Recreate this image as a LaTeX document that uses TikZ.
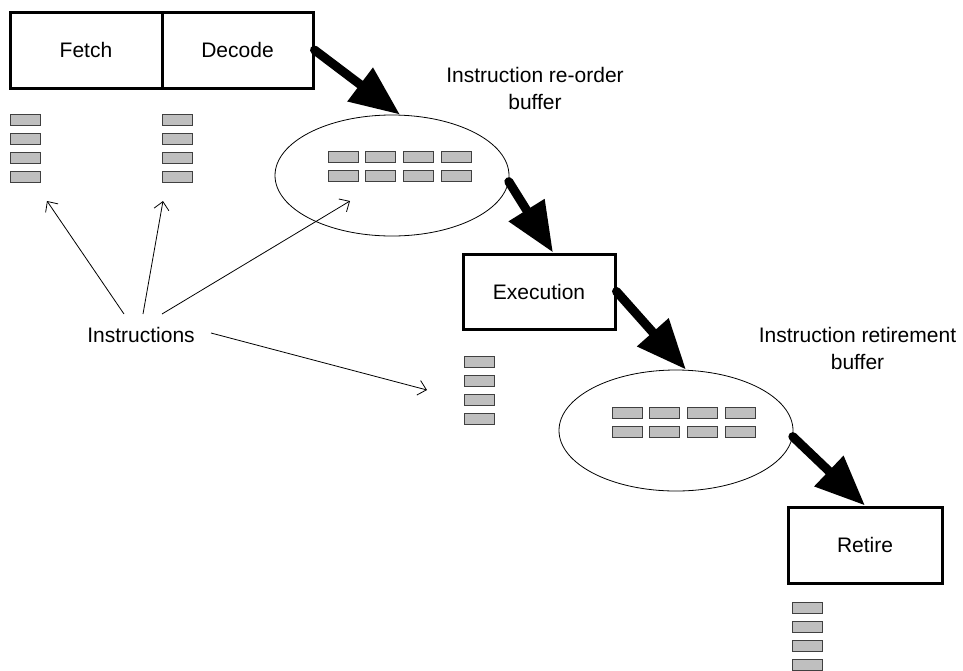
\documentclass[tikz,border=0pt]{standalone}
\usepackage{fontspec}
\setmainfont{Liberation Sans}
\usetikzlibrary{arrows.meta,shapes.geometric,calc}

\tikzset{
  stage/.style={draw, line width=3pt, inner sep=0pt, font=\fontsize{21}{27}\selectfont},
  buf/.style={draw, ellipse, line width=0.8pt, inner sep=0pt,
              minimum width=234pt, minimum height=121pt},
  slot/.style={draw=black!75, fill=gray!50, line width=0.9pt, inner sep=0pt,
               minimum width=30pt, minimum height=11pt},
  label/.style={align=center, inner sep=0pt, font=\fontsize{21}{27}\selectfont},
  flow/.style={line width=9pt, line cap=round,
               -{Triangle[length=50pt,width=40pt]}},
  pointer/.style={line width=0.8pt, -{Straight Barb[length=8pt,width=15pt]}}
}

\begin{document}
\begin{tikzpicture}[x=1pt,y=-1pt]
\useasboundingbox (0,0) rectangle (963,670);

% pipeline stages
\node[stage, minimum width=152pt, minimum height=76pt] (fetch)  at (86,50)    {Fetch};
\node[stage, minimum width=151pt, minimum height=76pt] (decode) at (237.5,50) {Decode};
\node[stage, minimum width=152pt, minimum height=75pt] (exec)   at (539,291.5) {Execution};
\node[stage, minimum width=154pt, minimum height=76pt] (retire) at (865,545)  {Retire};

% buffers
\node[buf] (rob) at (392,175.5) {};
\node[buf] (rrb) at (676,430.5) {};

\node[label] (roblbl) at (535,88.5)  {Instruction re-order\\buffer};
\node[label] (rrblbl) at (857.5,348.5) {Instruction retirement\\buffer};

% instruction slots in each buffer
\foreach \i in {0,...,3}{
  \foreach \j in {0,1}{
    \node[slot] (robs\i\j) at ($(rob.center)+(-49+37.7*\i,-19+19*\j)$) {};
    \node[slot] (rrbs\i\j) at ($(rrb.center)+(-49+37.7*\i,-18+19*\j)$) {};
  }
}

% instruction queues under the stages
\foreach \k in {0,...,3}{
  \node[slot] (fq\k) at (25.5,119.5+19*\k) {};
  \node[slot] (dq\k) at (177,119.5+19*\k) {};
  \node[slot] (eq\k) at (479,361.5+19*\k) {};
  \node[slot] (rq\k) at (807.5,607.5+19*\k) {};
}

% main flow
\draw[flow] (decode.east) -- ($(rob.north)+(8,0)$);
\draw[flow] (rob.-3) -- ($(exec.north)+(14,0)$);
\draw[flow] (exec.east) -- ($(rrb.north)+(10,0)$);
\draw[flow] (rrb.-3) -- (retire.north);

% instruction pointers
\node[label] (instr) at (141,335) {Instructions};
\coordinate (p1) at (47,201);
\coordinate (p2) at (163,201);
\coordinate (p3) at (350,201);
\coordinate (p4) at (427,390);
\draw[pointer] ($(instr.center)+(-17,-21)$) -- (p1);
\draw[pointer] ($(instr.center)+(2,-21)$) -- (p2);
\draw[pointer] ($(instr.center)+(21,-21)$) -- (p3);
\draw[pointer] ($(instr.center)+(70,-2)$) -- (p4);
\end{tikzpicture}
\end{document}
